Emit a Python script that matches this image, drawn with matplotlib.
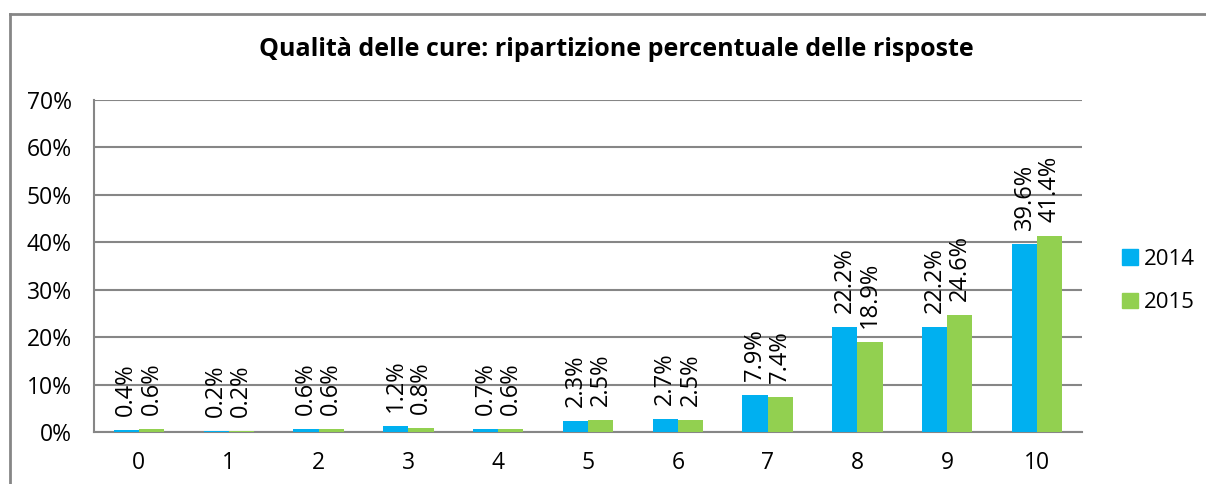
import numpy as np
import matplotlib
matplotlib.use("Agg")
import matplotlib.pyplot as plt
from matplotlib.lines import Line2D

categories = ['0', '1', '2', '3', '4', '5', '6', '7', '8', '9', '10']
v2014 = [0.4, 0.2, 0.6, 1.2, 0.7, 2.3, 2.7, 7.9, 22.2, 22.2, 39.6]
v2015 = [0.6, 0.2, 0.6, 0.8, 0.6, 2.5, 2.5, 7.4, 18.9, 24.6, 41.4]
series = ['2014', '2015']
colors = ['#00B0F0', '#92D050']
title = 'Qualità delle cure: ripartizione percentuale delle risposte'

plt.rcParams['font.family'] = ['Open Sans', 'DejaVu Sans']

fig = plt.figure(figsize=(12.06, 4.84), dpi=100)
ax = fig.add_axes([94/1206, 1-432/484, (1082-94)/1206, (432-100)/484])

x = np.arange(len(categories))
w = 0.28
for k, (vals, c) in enumerate(zip([v2014, v2015], colors)):
    pos = x + (k - 0.5) * w
    ax.bar(pos, vals, width=w, color=c, label=series[k], zorder=3)
    for px, v in zip(pos, vals):
        ax.annotate('%.1f%%' % v, (px, v), xytext=(0, 10), textcoords='offset points',
                    rotation=90, ha='center', va='bottom', fontsize=17, zorder=4)

ax.set_xlim(-0.5, 10.5)
ax.set_ylim(0, 70)
ax.set_yticks(range(0, 71, 10))
ax.set_yticklabels(['%d%%' % t for t in range(0, 71, 10)], fontsize=16.5)
ax.set_xticks(x)
ax.set_xticklabels(categories, fontsize=16.5)
ax.tick_params(axis='y', length=0, pad=16)
ax.tick_params(axis='x', length=0, pad=14)
ax.yaxis.grid(True, color='#868686', linewidth=1.5, zorder=0)
for s in ['top', 'right']:
    ax.spines[s].set_visible(False)
for s in ['left', 'bottom']:
    ax.spines[s].set_color('#868686')
    ax.spines[s].set_linewidth(1.5)

fig.text(616/1206, 1-50/484, title, ha='center', va='center',
         fontsize=18, fontweight='bold')

handles = [plt.Rectangle((0, 0), 1, 1, color=c) for c in colors]
fig.legend(handles, series, loc='center left', bbox_to_anchor=(1102/1206, 1-281/484),
           frameon=False, fontsize=16, handlelength=0.7, handleheight=0.7,
           handletextpad=0.3, labelspacing=1.0)

fig.add_artist(Line2D([10/1206, 10/1206], [0, 1-14/484], color='#868686', linewidth=2))
fig.add_artist(Line2D([10/1206, 1], [1-14/484, 1-14/484], color='#868686', linewidth=2))

fig.savefig('out.png', dpi=100)
